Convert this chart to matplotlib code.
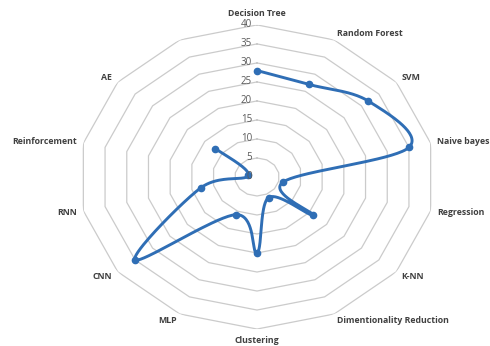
import numpy as np
import matplotlib
matplotlib.use('Agg')
import matplotlib.pyplot as plt
from matplotlib.transforms import offset_copy

categories = ['Decision Tree', 'Random Forest', 'SVM', 'Naive bayes', 'Regression', 'K-NN',
              'Dimentionality Reduction', 'Clustering', 'MLP', 'CNN', 'RNN', 'Reinforcement', 'AE', '']
values = [28, 27, 32, 35, 6, 16, 6, 20, 11, 35, 13, 2, 12, None]
rticks = [0, 5, 10, 15, 20, 25, 30, 35, 40]

plt.rcParams['font.family'] = ['Open Sans', 'DejaVu Sans']

fig = plt.figure(figsize=(4.9, 3.46), dpi=100)
fig.patch.set_facecolor('white')
ax = fig.add_axes([0.161, 0.049, 0.727, 0.879], projection='polar')
ax.set_theta_zero_location('N')
ax.set_theta_direction(-1)
ax.set_aspect('auto')
ax.set_ylim(0, rticks[-1])
ax.grid(False)
ax.spines['polar'].set_visible(False)
ax.set_xticks([])
ax.set_yticks([])
ax.patch.set_alpha(0)

n = len(categories)
theta = np.arange(n) * 2 * np.pi / n

# polygon grid
for r in rticks[1:]:
    ax.plot(np.append(theta, theta[0]), [r] * (n + 1), color='#CBCBCB', lw=0.9, zorder=1)

# radial tick labels
for r in rticks:
    tr = offset_copy(ax.transData, fig=fig, x=-5, y=0, units='dots')
    ax.text(0, max(r, 0.01), str(r), transform=tr, ha='right', va='center', fontsize=7,
            color='#595959', zorder=5, clip_on=False)

# category labels
pad = 7
for t, lab in zip(theta, categories):
    if not lab:
        continue
    s, c = np.sin(t), np.cos(t)
    ha = 'left' if s > 0.1 else ('right' if s < -0.1 else 'center')
    va = 'bottom' if c > 0.95 else ('top' if c < -0.95 else 'center')
    tr = offset_copy(ax.transData, fig=fig, x=pad * s, y=pad * c, units='dots')
    ax.text(t, rticks[-1], lab, transform=tr, ha=ha, va=va, fontsize=6.3,
            fontweight='bold', color='#404040')

# smoothed series (Catmull-Rom in cartesian space)
idx = [i for i, v in enumerate(values) if v is not None]
th_p = theta[idx]
r_p = np.array([values[i] for i in idx], dtype=float)
P = np.column_stack([r_p * np.sin(th_p), r_p * np.cos(th_p)])
Pext = np.vstack([P[0], P, P[-1]])
xs, ys = [], []
tt = np.linspace(0, 1, 40)
for k in range(1, len(Pext) - 2):
    p0, p1, p2, p3 = Pext[k - 1], Pext[k], Pext[k + 1], Pext[k + 2]
    for u in tt:
        pt = 0.5 * ((2 * p1) + (-p0 + p2) * u + (2 * p0 - 5 * p1 + 4 * p2 - p3) * u ** 2
                    + (-p0 + 3 * p1 - 3 * p2 + p3) * u ** 3)
        xs.append(pt[0]); ys.append(pt[1])
xs = np.array(xs); ys = np.array(ys)
th_s = np.arctan2(xs, ys)
r_s = np.hypot(xs, ys)

color = '#2F6EB5'
ax.plot(th_s, r_s, color=color, lw=2.1, solid_capstyle='round', zorder=3)
ax.plot(th_p, r_p, 'o', ms=4.5, color=color, zorder=4)

fig.savefig('out.png', dpi=100, facecolor='white')
